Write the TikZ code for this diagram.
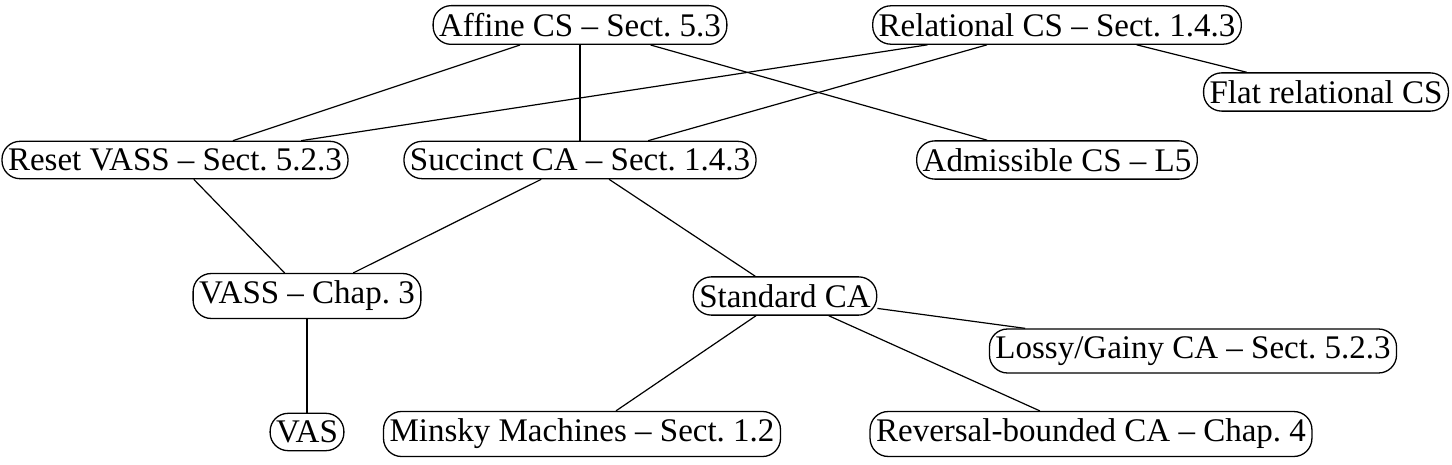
\documentclass[tikz,border=0pt]{standalone}
\usepackage{fontspec}
\setmainfont{Liberation Serif}
\begin{document}
\frenchspacing
\begin{tikzpicture}[x=1pt,y=-1pt,
  box/.style={draw, rounded corners=18pt, line width=1.3pt, inner xsep=6pt, inner ysep=7.5pt, fill=white,
    font=\fontsize{33}{38}\selectfont},
  edge/.style={line width=1.2pt}]
\useasboundingbox (0,0) rectangle (1452,465);
\node[box] (affine) at (580,25) {Affine CS – Sect. 5.3};
\node[box] (rel) at (1057,25) {Relational CS – Sect. 1.4.3};
\node[box] (flat) at (1326,92) {Flat relational CS};
\node[box] (reset) at (175,160) {Reset VASS – Sect. 5.2.3};
\node[box] (succ) at (580,160) {Succinct CA – Sect. 1.4.3};
\node[box] (adm) at (1057,160) {Admissible CS – L5};
\node[box] (vass) at (307,296) {VASS – Chap. 3};
\node[box] (std) at (785,296) {Standard CA};
\node[box] (lossy) at (1193,351) {Lossy/Gainy CA – Sect. 5.2.3};
\node[box] (vas) at (307,432) {VAS};
\node[box] (minsky) at (582,434) {Minsky Machines – Sect. 1.2};
\node[box] (rev) at (1091,434) {Reversal-bounded CA – Chap. 4};
\draw[edge] (affine) -- (reset);
\draw[edge] (affine) -- (succ);
\draw[edge] (affine) -- (adm);
\draw[edge] (rel) -- (reset);
\draw[edge] (rel) -- (succ);
\draw[edge] (rel) -- (flat);
\draw[edge] (reset) -- (vass);
\draw[edge] (succ) -- (vass);
\draw[edge] (succ) -- (std);
\draw[edge] (vass) -- (vas);
\draw[edge] (std) -- (lossy);
\draw[edge] (std) -- (minsky);
\draw[edge] (std) -- (rev);
\end{tikzpicture}
\end{document}
